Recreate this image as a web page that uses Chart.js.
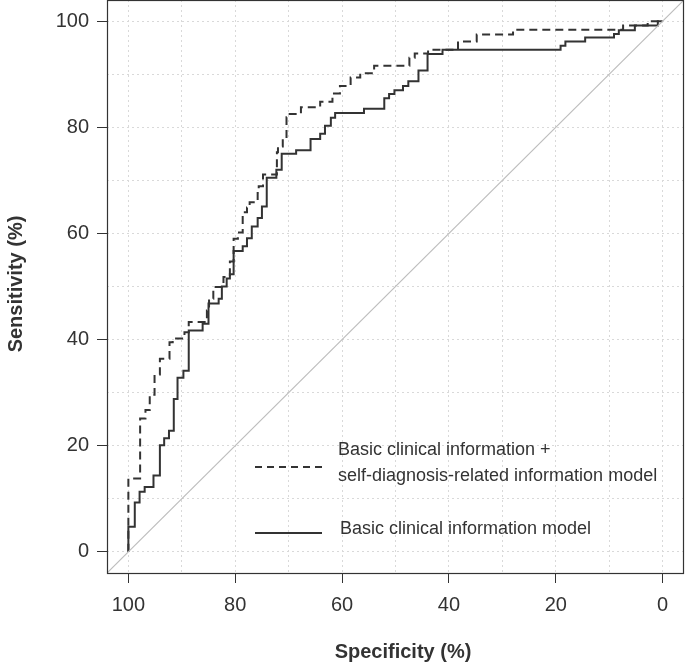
<!DOCTYPE html>
<html lang="en">
<head>
    <meta charset="UTF-8">
    <title>ROC curves</title>
    <script src="https://cdn.jsdelivr.net/npm/chart.js"></script>
    <style>
        body {
            margin: 0;
            background: #fff;
        }
        #wrap {
            width: 685px;
            height: 669px;
        }
    </style>
</head>
<body>
    <div id="wrap"><canvas id="rocChart"></canvas></div>

    <script>
        // Step vertices: (specificity %, sensitivity %)
        const basicSpec = [100, 98.8, 97.9, 96.95, 95.3, 94.1, 93.3, 92.4, 91.5, 90.8, 89.7, 88.7, 86.1, 85.0, 83.1, 82.5, 81.6, 81.0, 80.3, 78.6, 77.8, 76.9, 75.8, 75.0, 74.1, 72.3, 71.3, 68.6, 65.9, 64.1, 63.2, 62.1, 61.3, 55.9, 52.1, 51.2, 50.2, 48.6, 47.6, 45.7, 44.0, 41.2, 19.1, 18.2, 14.5, 9.1, 8.2, 5.2, 0.9, 0];
        const basicSens = [0, 4.7, 9.3, 11.3, 12.2, 14.4, 20.1, 21.4, 22.8, 28.8, 32.8, 34.1, 41.7, 43.0, 46.8, 47.7, 50.0, 51.5, 52.3, 56.7, 57.6, 59.1, 61.3, 62.9, 65.1, 70.5, 72.0, 75.0, 75.7, 77.8, 78.8, 80.3, 81.8, 82.7, 83.5, 85.5, 86.3, 87.0, 87.8, 88.7, 90.7, 93.8, 94.6, 95.4, 96.2, 96.95, 97.6, 98.3, 99.2, 100];

        const combSpec = [100, 97.8, 96.8, 96.0, 95.1, 94.1, 92.3, 91.7, 89.5, 88.7, 85.3, 84.9, 84.1, 82.2, 81.0, 80.3, 79.5, 78.6, 77.8, 77.3, 75.8, 75.6, 74.8, 72.2, 72.0, 71.1, 70.4, 70.2, 67.7, 64.1, 61.8, 60.4, 58.4, 56.6, 54.0, 47.4, 46.4, 43.9, 38.3, 34.8, 28.0, 7.4, 2.8, 0];
        const combSens = [0, 13.8, 25.1, 26.7, 29.6, 33.4, 36.4, 39.5, 40.2, 41.4, 43.3, 45.5, 47.7, 49.9, 51.8, 54.7, 59.0, 60.2, 64.0, 64.9, 65.9, 67.6, 68.9, 71.1, 75.3, 76.4, 77.8, 81.9, 82.5, 83.8, 84.8, 86.4, 87.8, 89.4, 90.2, 91.6, 93.1, 93.9, 94.6, 96.2, 97.5, 98.4, 99.2, 100];

        // chance line, clipped to the plot area
        const diagSpec = [110, -10];
        const diagSens = [-10, 110];

        const gridValues = [0, 10, 20, 30, 40, 50, 60, 70, 80, 90, 100];
        const labelValues = [0, 20, 40, 60, 80, 100];

        const legendLabels = [
            ["Basic clinical information +", "self-diagnosis-related information model"],
            ["Basic clinical information model"]
        ];

        const toPoints = (xs, ys) => xs.map((x, i) => ({ x: x, y: ys[i] }));
        const ink = "#333";
        const fontFamily = "Arial, 'Liberation Sans', sans-serif";

        const axisCommon = {
            type: "linear",
            min: -4,
            max: 104,
            afterBuildTicks: scale => {
                scale.ticks = gridValues.map(v => ({ value: v }));
            },
            border: { display: false, dash: [2, 3] },
            grid: {
                color: "#d9d9d9",
                lineWidth: 1,
                tickLength: 10,
                tickWidth: 1,
                tickBorderDash: [],
                tickColor: ctx => labelValues.includes(ctx.tick.value) ? ink : "rgba(0,0,0,0)"
            },
            ticks: {
                autoSkip: false,
                maxRotation: 0,
                color: ink,
                font: { family: fontFamily, size: 20 },
                callback: v => labelValues.includes(v) ? String(v) : ""
            }
        };

        // frame, axis titles and legend
        const decorations = {
            id: "decorations",
            afterDraw(chart) {
                const { ctx, chartArea } = chart;
                ctx.save();
                ctx.strokeStyle = ink;
                ctx.lineWidth = 1.2;
                ctx.strokeRect(chartArea.left + 0.5, chartArea.top + 0.5,
                    chartArea.right - chartArea.left - 1, chartArea.bottom - chartArea.top);

                ctx.fillStyle = ink;
                ctx.font = "bold 20px " + fontFamily;
                ctx.textAlign = "center";
                ctx.textBaseline = "alphabetic";
                ctx.fillText("Specificity (%)", 403, 658);

                ctx.save();
                ctx.translate(22, 284);
                ctx.rotate(-Math.PI / 2);
                ctx.fillText("Sensitivity (%)", 0, 0);
                ctx.restore();

                // legend
                ctx.font = "18px " + fontFamily;
                ctx.textAlign = "left";
                ctx.fillText(legendLabels[0][0], 338, 455);
                ctx.fillText(legendLabels[0][1], 338, 481);
                ctx.fillText(legendLabels[1][0], 340, 534);

                ctx.lineWidth = 2;
                ctx.setLineDash([7, 5]);
                ctx.beginPath();
                ctx.moveTo(255, 467);
                ctx.lineTo(322, 467);
                ctx.stroke();
                ctx.setLineDash([]);
                ctx.beginPath();
                ctx.moveTo(255, 533);
                ctx.lineTo(322, 533);
                ctx.stroke();
                ctx.restore();
            }
        };

        const ctx = document.getElementById("rocChart").getContext("2d");
        new Chart(ctx, {
            type: "line",
            data: {
                datasets: [
                    {
                        label: "diagonal",
                        data: toPoints(diagSpec, diagSens),
                        borderColor: "#bdbdbd",
                        borderWidth: 1.2,
                        pointRadius: 0
                    },
                    {
                        label: legendLabels[1][0],
                        data: toPoints(basicSpec, basicSens),
                        borderColor: ink,
                        borderWidth: 2,
                        pointRadius: 0,
                        stepped: "after"
                    },
                    {
                        label: legendLabels[0].join(" "),
                        data: toPoints(combSpec, combSens),
                        borderColor: ink,
                        borderWidth: 2,
                        borderDash: [8, 5],
                        pointRadius: 0,
                        stepped: "after"
                    }
                ]
            },
            options: {
                responsive: true,
                maintainAspectRatio: false,
                animation: false,
                layout: { padding: { left: 0, right: 1, top: 0, bottom: 0 } },
                plugins: {
                    legend: { display: false },
                    tooltip: { enabled: false }
                },
                scales: {
                    x: Object.assign({}, axisCommon, {
                        reverse: true,
                        afterFit: scale => {
                            scale.height = 96;
                            scale.paddingLeft = 0;
                            scale.paddingRight = 0;
                        },
                        ticks: Object.assign({}, axisCommon.ticks, { padding: 10 })
                    }),
                    y: Object.assign({}, axisCommon, {
                        afterFit: scale => {
                            scale.width = 107;
                            scale.paddingTop = 0;
                            scale.paddingBottom = 0;
                        },
                        ticks: Object.assign({}, axisCommon.ticks, { padding: 8 })
                    })
                }
            },
            plugins: [decorations]
        });
    </script>
</body>
</html>
